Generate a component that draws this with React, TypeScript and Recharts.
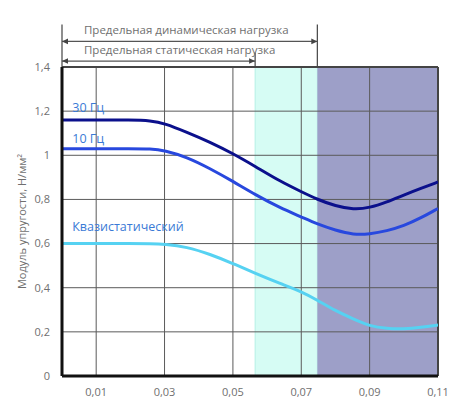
import React from 'react';
import {
  LineChart, Line, XAxis, YAxis, ReferenceArea, ReferenceLine, ReferenceDot,
} from 'recharts';

const xValues = [0, 0.01, 0.02, 0.026, 0.03, 0.0365, 0.0433, 0.05, 0.0565, 0.0638, 0.07, 0.0747, 0.08, 0.0853, 0.09, 0.095, 0.1, 0.105, 0.11];
const hz30 = [1.16, 1.16, 1.16, 1.157, 1.145, 1.105, 1.06, 1.008, 0.95, 0.882, 0.835, 0.8, 0.77, 0.754, 0.762, 0.788, 0.82, 0.85, 0.879];
const hz10 = [1.03, 1.03, 1.03, 1.03, 1.022, 0.992, 0.94, 0.882, 0.822, 0.762, 0.721, 0.688, 0.66, 0.64, 0.643, 0.657, 0.68, 0.716, 0.759];
const quasi = [0.6, 0.6, 0.6, 0.6, 0.598, 0.585, 0.552, 0.51, 0.465, 0.419, 0.383, 0.344, 0.295, 0.258, 0.226, 0.215, 0.213, 0.22, 0.231];

const xTicks = [0.01, 0.03, 0.05, 0.07, 0.09, 0.11];
const yTicks = [0, 0.2, 0.4, 0.6, 0.8, 1, 1.2, 1.4];

const staticLimit = 0.0565;
const dynamicLimit = 0.0747;
const xMax = 0.11;
const yMax = 1.4;

const seriesLabels = [
  { text: '30 Гц', x: 0.003, y: 1.195 },
  { text: '10 Гц', x: 0.003, y: 1.054 },
  { text: 'Квазистатический', x: 0.003, y: 0.656 },
];

const dynamicText = 'Предельная динамическая нагрузка';
const staticText = 'Предельная статическая нагрузка';
const yAxisTitle = 'Модуль упругости, Н/мм²';

const data = xValues.map((x, i) => ({ x, hz30: hz30[i], hz10: hz10[i], quasi: quasi[i] }));

const fmt = (v: number) => (v === 0 ? '0' : String(v).replace('.', ','));

const FONT = '"Open Sans", "Noto Sans", sans-serif';
const GREY = '#6f6f6f';
const GRID = '#5a5a5a';

const arrowShape = (text: string) => (p: any) => {
  const { x1, y1, x2, y2 } = p;
  const a = 6;
  return (
    <g>
      <line x1={x1} y1={y1} x2={x2} y2={y2} stroke="#555" strokeWidth={1.2} />
      <path d={`M${x1},${y1} L${x1 + a},${y1 - 2.8} L${x1 + a},${y1 + 2.8} Z`} fill="#444" />
      <path d={`M${x2},${y2} L${x2 - a},${y2 - 2.8} L${x2 - a},${y2 + 2.8} Z`} fill="#444" />
      <text x={x1 + 22} y={y1 - 7.5} fontSize={11.5} fill={GREY} fontFamily={FONT}>{text}</text>
    </g>
  );
};

const labelContent = (text: string) => (p: any) => {
  const vb = p.viewBox || {};
  return (
    <text x={vb.x} y={vb.y} fontSize={12.5} fill="#3a7ad6" fontFamily={FONT}>{text}</text>
  );
};

export default function App() {
  return (
    <div style={{ width: 462, height: 392 }}>
      <LineChart
        width={462}
        height={392}
        data={data}
        margin={{ top: 59, right: 32, bottom: 4, left: 14 }}
      >
        <ReferenceArea x1={staticLimit} x2={dynamicLimit} y1={0} y2={yMax} fill="#d6fcf4" fillOpacity={1} stroke="#b4f0e6" strokeWidth={1} />
        <ReferenceArea x1={dynamicLimit} x2={xMax} y1={0} y2={yMax} fill="#9d9fc8" fillOpacity={1} stroke="none" />
        {xTicks.map((t) => (
          <ReferenceLine key={`gx${t}`} x={t} stroke={GRID} strokeWidth={1} />
        ))}
        {yTicks.map((t) => (
          <ReferenceLine key={`gy${t}`} y={t} stroke={GRID} strokeWidth={1} />
        ))}
        <XAxis
          dataKey="x"
          type="number"
          domain={[0, xMax]}
          ticks={xTicks}
          tickFormatter={fmt}
          allowDataOverflow
          axisLine={{ stroke: '#111', strokeWidth: 3 }}
          tickLine={false}
          tick={{ fill: GREY, fontSize: 11, fontFamily: FONT }}
          tickMargin={6}
          height={20}
        />
        <YAxis
          type="number"
          domain={[0, yMax]}
          ticks={yTicks}
          tickFormatter={fmt}
          axisLine={{ stroke: '#111', strokeWidth: 3 }}
          tickLine={false}
          tick={{ fill: GREY, fontSize: 11, fontFamily: FONT }}
          tickMargin={6}
          width={40}
          label={{
            content: (p: any) => {
              const vb = p.viewBox;
              const cx = vb.x - 1;
              const cy = vb.y + vb.height / 2;
              return (
                <text x={cx} y={cy} transform={`rotate(-90, ${cx}, ${cy})`} textAnchor="middle" dominantBaseline="central" fontSize={11} fill={GREY} fontFamily={FONT}>
                  {yAxisTitle}
                </text>
              );
            },
          }}
        />
        <ReferenceLine y={yMax} stroke="#444" strokeWidth={2} />
        <ReferenceLine x={xMax} stroke="#444" strokeWidth={2} />
        <ReferenceLine segment={[{ x: 0, y: yMax }, { x: 0, y: 1.593 }]} stroke="#444" strokeWidth={1.2} ifOverflow="visible" />
        <ReferenceLine segment={[{ x: dynamicLimit, y: yMax }, { x: dynamicLimit, y: 1.593 }]} stroke="#444" strokeWidth={1.2} ifOverflow="visible" />
        <ReferenceLine segment={[{ x: staticLimit, y: yMax }, { x: staticLimit, y: 1.466 }]} stroke="#444" strokeWidth={1.2} ifOverflow="visible" />
        <ReferenceLine segment={[{ x: 0, y: 1.516 }, { x: dynamicLimit, y: 1.516 }]} ifOverflow="visible" shape={arrowShape(dynamicText)} />
        <ReferenceLine segment={[{ x: 0, y: 1.427 }, { x: staticLimit, y: 1.427 }]} ifOverflow="visible" shape={arrowShape(staticText)} />
        <Line type="basis" dataKey="quasi" stroke="#56d2f2" strokeWidth={3} dot={false} isAnimationActive={false} />
        <Line type="basis" dataKey="hz10" stroke="#2848de" strokeWidth={3} dot={false} isAnimationActive={false} />
        <Line type="basis" dataKey="hz30" stroke="#0b108c" strokeWidth={3} dot={false} isAnimationActive={false} />
        {seriesLabels.map((l) => (
          <ReferenceDot key={l.text} x={l.x} y={l.y} r={0} fill="none" stroke="none" ifOverflow="visible" label={{ content: labelContent(l.text) }} />
        ))}
      </LineChart>
    </div>
  );
}
